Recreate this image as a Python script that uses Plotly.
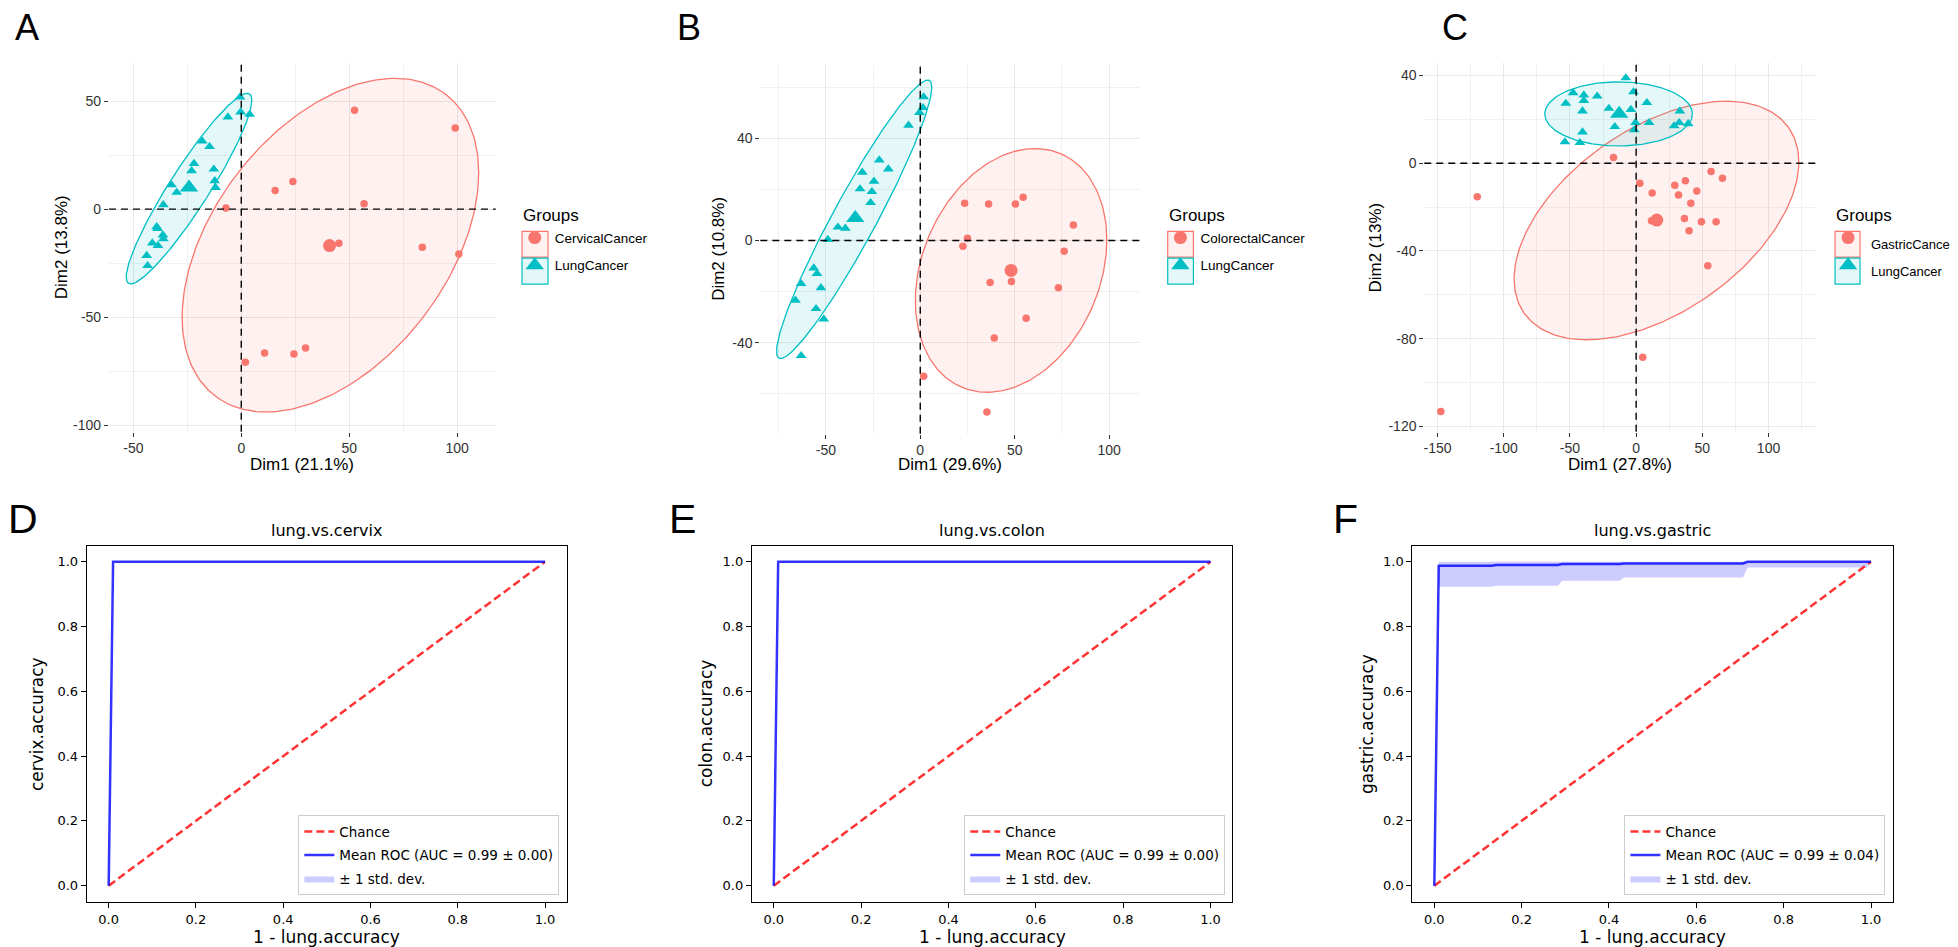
import numpy as np
import plotly.graph_objects as go

W, H = 1958, 947
RED, TEAL = '#F8766D', '#00BFC4'
RED_FILL, TEAL_FILL = 'rgba(248,118,109,0.10)', 'rgba(0,191,196,0.10)'
TOPFONT = 'Liberation Sans, Arial, Helvetica, sans-serif'
ROCFONT = 'DejaVu Sans, Verdana, sans-serif'

# ---------------- PCA data ----------------
# Panel A : cervical vs lung
A_lung_x = [-0.6, -0.3, 3.9, -6.2, -18.1, -14.7, -21.9, -23.0, -12.7, -12.3, -11.9, -32.3, -29.9,
            -36.1, -39.2, -38.8, -36.3, -36.1, -41.2, -38.6, -43.8, -43.4]
A_lung_y = [51.8, 44.9, 43.8, 42.6, 31.5, 28.9, 21.1, 17.7, 18.5, 13.1, 10.0, 11.2, 7.7,
            2.0, -8.2, -9.0, -12.0, -13.8, -15.7, -16.9, -21.5, -26.2]
A_other_x = [52.5, 99.1, 23.9, 15.7, 56.9, -7.1, 45.2, 83.9, 100.8, 29.8, 10.8, 24.4, 1.9]
A_other_y = [45.7, 37.5, 12.8, 8.6, 2.5, 0.5, -15.8, -17.7, -20.8, -64.3, -66.6, -67.1, -70.9]
A_centroids = {'lung': (-24.2, 10.0), 'other': (40.9, -16.9)}
# ellipse: centre x, centre y, half-extent x, half-extent y, correlation
A_ellipses = {'lung': (-24.2, 9.5, 29.1, 44.1, 0.928), 'other': (41.3, -16.7, 68.7, 77.2, 0.434)}

# Panel B : colorectal vs lung
B_lung_x = [1.8, 1.4, -0.4, -6.2, -21.7, -16.9, -30.7, -24.5, -31.9, -25.6, -26.3, -43.6, -39.7,
            -48.9, -56.4, -54.7, -63.1, -52.6, -66.1, -55.2, -51.1, -63.1]
B_lung_y = [56.2, 52.0, 50.1, 45.1, 31.5, 28.0, 26.7, 23.2, 20.2, 19.1, 14.8, 5.2, 4.8,
            0.4, -10.8, -13.0, -16.9, -18.5, -23.4, -26.7, -30.8, -45.1]
B_other_x = [23.5, 36.2, 50.4, 54.5, 81.1, 25.0, 22.6, 76.2, 37.0, 48.3, 73.2, 56.1, 39.2, 1.8, 35.3]
B_other_y = [14.6, 14.3, 14.3, 16.9, 6.1, 0.9, -2.2, -4.2, -16.4, -16.0, -18.5, -30.4, -38.2, -53.1, -67.1]
B_centroids = {'lung': (-34.4, 8.8), 'other': (48.1, -11.7)}
B_ellipses = {'lung': (-35.0, 8.3, 41.1, 54.5, 0.948), 'other': (48.1, -11.7, 50.7, 47.7, 0.25)}

# Panel C : gastric vs lung
C_lung_x = [-7.8, -2.0, -47.6, -39.5, -29.4, -39.5, -53.1, 8.1, -20.6, -4.0, -40.5, 33.0, -0.5,
            9.8, 32.5, 39.3, 28.7, -16.1, -1.5, -40.5, -53.8, -42.5]
C_lung_y = [38.9, 32.6, 32.1, 31.1, 30.6, 28.6, 27.3, 27.6, 25.0, 24.5, 23.8, 23.8, 18.5,
            18.5, 18.5, 18.0, 17.0, 16.7, 15.2, 14.2, 9.7, 9.4]
C_other_x = [-17.1, 56.6, 65.2, 2.8, 37.2, 29.2, 45.8, 12.1, 32.0, 41.3, -120.0, 11.6, 36.5,
             49.3, 60.4, 40.0, 54.1, 5.0, -147.5]
C_other_y = [2.6, -3.8, -6.8, -9.1, -8.0, -10.0, -12.6, -13.6, -14.5, -18.2, -15.3, -26.2, -25.2,
             -26.7, -26.7, -30.8, -46.7, -88.5, -113.2]
C_centroids = {'lung': (-12.8, 22.6), 'other': (15.6, -25.9)}
C_ellipses = {'lung': (-13.25, 22.5, 55.75, 14.6, 0.0), 'other': (15.35, -26.1, 107.5, 54.4, 0.49)}

A_xticks, A_yticks = [-50, 0, 50, 100], [-100, -50, 0, 50]
A_xminor, A_yminor = [-25, 25, 75], [-75, -25, 25]
B_xticks, B_yticks = [-50, 0, 50, 100], [-40, 0, 40]
B_xminor, B_yminor = [-75, -25, 25, 75], [-60, -20, 20, 60]
C_xticks, C_yticks = [-150, -100, -50, 0, 50, 100], [-120, -80, -40, 0, 40]
C_xminor, C_yminor = [-125, -75, -25, 25, 75, 125], [-100, -60, -20, 20]

# ---------------- ROC data ----------------
D_fpr = [0.0, 0.0101, 1.0]
D_tpr = [0.0, 1.0, 1.0]
D_lo = [0.0, 1.0, 1.0]
D_hi = [0.0, 1.0, 1.0]
E_fpr = [0.0, 0.0101, 1.0]
E_tpr = [0.0, 1.0, 1.0]
E_lo = [0.0, 1.0, 1.0]
E_hi = [0.0, 1.0, 1.0]
F_fpr = [0.0, 0.0101, 0.1313, 0.1414, 0.2828, 0.2929, 0.4242, 0.4343, 0.7071, 0.7172, 0.9899, 1.0]
F_tpr = [0.0, 0.9877, 0.9877, 0.9898, 0.9898, 0.9929, 0.9929, 0.995, 0.995, 1.0, 1.0, 1.0]
F_lo = [0.0, 0.923, 0.923, 0.926, 0.926, 0.9415, 0.9415, 0.9518, 0.9518, 0.9825, 0.9825, 1.0]
F_hi = [0.0, 1.0, 1.0, 1.0, 1.0, 1.0, 1.0, 1.0, 1.0, 1.0, 1.0, 1.0]
chance = [0.0, 1.0]
roc_ticks = [0.0, 0.2, 0.4, 0.6, 0.8, 1.0]


def px(x):
    return x / W


def py(y):
    return 1 - y / H


def ellipse(cx, cy, sx, sy, r, n=241):
    t = np.linspace(0, 2 * np.pi, n)
    return cx + sx * np.cos(t), cy + sy * (r * np.cos(t) + np.sqrt(1 - r * r) * np.sin(t))


fig = go.Figure()
layout = dict(width=W, height=H, margin=dict(l=0, r=0, t=0, b=0), autosize=False,
              paper_bgcolor='white', plot_bgcolor='white', showlegend=True)
shapes, annotations = [], []

# 'textlabels' True -> legend entry texts written as annotations (the last legend sits at the page edge)
top_panels = [
    dict(s='', leg='legend', other='CervicalCancer', lx=A_lung_x, ly=A_lung_y, ox=A_other_x, oy=A_other_y,
         cen=A_centroids, ell=A_ellipses, dom=(100, 487, 55, 425), xr=[-61.3, 117.9], yr=[-103, 67.7],
         xt=A_xticks, yt=A_yticks, xm=A_xminor, ym=A_yminor, letter='A', lpos=(18, 20),
         xtitle='Dim1 (21.1%)', ytitle='Dim2 (13.8%)', ytx=52, yty=240, legx=506, keyx=(513.3, 539.3),
         textlabels=False, lfs=13.5),
    dict(s='2', leg='legend2', other='ColorectalCancer', lx=B_lung_x, ly=B_lung_y, ox=B_other_x, oy=B_other_y,
         cen=B_centroids, ell=B_ellipses, dom=(751.7, 1132, 56.7, 427), xr=[-84.7, 116.6], yr=[-75.6, 68.9],
         xt=B_xticks, yt=B_yticks, xm=B_xminor, ym=B_yminor, letter='B', lpos=(680, 20),
         xtitle='Dim1 (29.6%)', ytitle='Dim2 (10.8%)', ytx=710, yty=242, legx=1152, keyx=(1159.3, 1185),
         textlabels=False, lfs=13.5),
    dict(s='3', leg='legend3', other='GastricCancer', lx=C_lung_x, ly=C_lung_y, ox=C_other_x, oy=C_other_y,
         cen=C_centroids, ell=C_ellipses, dom=(1416, 1808, 55, 425), xr=[-160, 135.9], yr=[-122.4, 45.8],
         xt=C_xticks, yt=C_yticks, xm=C_xminor, ym=C_yminor, letter='C', lpos=(1447, 20),
         xtitle='Dim1 (27.8%)', ytitle='Dim2 (13%)', ytx=1367, yty=240, legx=1820, keyx=(1827, 1852),
         textlabels=True, lfs=13),
]

for P in top_panels:
    s = P['s']
    xa, ya = 'x' + s, 'y' + s
    for key, col, fillc in (('other', RED, RED_FILL), ('lung', TEAL, TEAL_FILL)):
        ex, ey = ellipse(*P['ell'][key])
        fig.add_trace(go.Scatter(x=ex, y=ey, mode='lines', fill='toself', fillcolor=fillc,
                                 line=dict(color=col, width=1.3), hoverinfo='skip', showlegend=False,
                                 xaxis=xa, yaxis=ya))
    fig.add_trace(go.Scatter(x=P['ox'], y=P['oy'], mode='markers', showlegend=False,
                             marker=dict(symbol='circle', size=7.5, color=RED, line=dict(width=0)),
                             xaxis=xa, yaxis=ya))
    fig.add_trace(go.Scatter(x=P['lx'], y=P['ly'], mode='markers', showlegend=False,
                             marker=dict(symbol='triangle-up', size=9.5, color=TEAL, line=dict(width=0)),
                             xaxis=xa, yaxis=ya))
    names = (P['other'], 'LungCancer')
    shown = (' ', '  ') if P['textlabels'] else names
    cx, cy = P['cen']['other']
    fig.add_trace(go.Scatter(x=[cx], y=[cy], mode='markers', name=shown[0], legend=P['leg'],
                             legendgroup=P['leg'] + 'o', legendrank=1, hovertext=names[0],
                             marker=dict(symbol='circle', size=13, color=RED, line=dict(width=0)),
                             xaxis=xa, yaxis=ya))
    cx, cy = P['cen']['lung']
    fig.add_trace(go.Scatter(x=[cx], y=[cy], mode='markers', name=shown[1], legend=P['leg'],
                             legendgroup=P['leg'] + 'l', legendrank=2, hovertext=names[1],
                             marker=dict(symbol='triangle-up', size=16, color=TEAL, line=dict(width=0)),
                             xaxis=xa, yaxis=ya))
    l, r, t, b = P['dom']
    tickfont = dict(family=TOPFONT, size=14, color='#333333')
    for ax, dom, rng, tv, mv, anc in (('xaxis', [px(l), px(r)], P['xr'], P['xt'], P['xm'], 'y'),
                                      ('yaxis', [py(b), py(t)], P['yr'], P['yt'], P['ym'], 'x')):
        layout[ax + s] = dict(domain=dom, range=rng, anchor=anc + s,
                              tickmode='array', tickvals=tv, ticktext=[str(v) for v in tv],
                              ticks='outside', ticklen=4, tickwidth=1, tickcolor='#333333',
                              tickfont=tickfont, showline=False, zeroline=False,
                              showgrid=True, gridcolor='#e8e8e8', gridwidth=1,
                              minor=dict(tickmode='array', tickvals=mv, showgrid=True,
                                         gridcolor='#f1f1f1', gridwidth=1, ticks=''))
    shapes.append(dict(type='line', xref=xa, yref=ya + ' domain', x0=0, x1=0, y0=0, y1=1,
                       line=dict(color='black', width=1.4, dash='7px,5px'), layer='above'))
    shapes.append(dict(type='line', xref=xa + ' domain', yref=ya, x0=0, x1=1, y0=0, y1=0,
                       line=dict(color='black', width=1.4, dash='7px,5px'), layer='above'))
    layout[P['leg']] = dict(x=px(P['legx']), y=py(215), xanchor='left', yanchor='top',
                            bgcolor='rgba(0,0,0,0)', borderwidth=0, traceorder='grouped',
                            tracegroupgap=7, itemsizing='trace',
                            font=dict(family=TOPFONT, size=13.5, color='black'))
    kx0, kx1 = P['keyx']
    for (y0, y1), col, fillc, nm in (((224, 250), RED, RED_FILL, names[0]),
                                     ((251, 277), TEAL, TEAL_FILL, names[1])):
        shapes.append(dict(type='rect', xref='paper', yref='paper', x0=px(kx0), x1=px(kx1),
                           y0=py(y1), y1=py(y0), line=dict(color=col, width=1.2), fillcolor=fillc,
                           layer='below'))
        if P['textlabels']:
            annotations.append(dict(text=nm, x=px(kx1 + 8.5), y=py((y0 + y1) / 2 + 0.5), xref='paper',
                                    yref='paper', showarrow=False, xanchor='left', yanchor='middle',
                                    font=dict(family=TOPFONT, size=P['lfs'], color='black')))
    annotations.append(dict(text='Groups', x=px(kx0 - 1), y=py(208), xref='paper', yref='paper',
                            showarrow=False, xanchor='left', yanchor='middle',
                            font=dict(family=TOPFONT, size=17, color='black')))
    annotations.append(dict(text=P['letter'], x=px(P['lpos'][0]), y=py(P['lpos'][1]), xref='paper',
                            yref='paper', showarrow=False, xanchor='center', yanchor='middle',
                            font=dict(family=TOPFONT, size=36, color='black')))
    annotations.append(dict(text=P['xtitle'], x=px((l + r) / 2), y=py(458), xref='paper', yref='paper',
                            showarrow=False, xanchor='center', yanchor='middle',
                            font=dict(family=TOPFONT, size=17, color='black')))
    annotations.append(dict(text=P['ytitle'], x=px(P['ytx']), y=py(P['yty']), xref='paper', yref='paper',
                            showarrow=False, xanchor='center', yanchor='middle', textangle=-90,
                            font=dict(family=TOPFONT, size=17, color='black')))

roc_panels = [
    dict(s='4', leg='legend4', fpr=D_fpr, tpr=D_tpr, lo=D_lo, hi=D_hi, auc='0.99 ± 0.00',
         dom=(77.9, 558.1), letter='D', lx=14, title='lung.vs.cervix', ylab='cervix.accuracy', ylx=27.4,
         legr=550.6),
    dict(s='5', leg='legend5', fpr=E_fpr, tpr=E_tpr, lo=E_lo, hi=E_hi, auc='0.99 ± 0.00',
         dom=(743.3, 1224.0), letter='E', lx=674, title='lung.vs.colon', ylab='colon.accuracy', ylx=697,
         legr=1216.9),
    dict(s='6', leg='legend6', fpr=F_fpr, tpr=F_tpr, lo=F_lo, hi=F_hi, auc='0.99 ± 0.04',
         dom=(1404.2, 1884.8), letter='F', lx=1337, title='lung.vs.gastric', ylab='gastric.accuracy',
         ylx=1358, legr=1877.4),
]
ROC_TOP, ROC_BOT = 539.3, 896.7

for P in roc_panels:
    s = P['s']
    xa, ya = 'x' + s, 'y' + s
    fig.add_trace(go.Scatter(x=P['fpr'], y=P['lo'], mode='lines', line=dict(width=0, color='rgba(0,0,255,0)'),
                             showlegend=False, hoverinfo='skip', xaxis=xa, yaxis=ya))
    fig.add_trace(go.Scatter(x=P['fpr'], y=P['hi'], mode='lines', fill='tonexty',
                             fillcolor='rgba(0,0,255,0.2)', line=dict(width=0, color='rgba(0,0,255,0)'),
                             name='± 1 std. dev.', legend=P['leg'], legendgroup=P['leg'] + 'c',
                             legendrank=3, xaxis=xa, yaxis=ya))
    fig.add_trace(go.Scatter(x=chance, y=chance, mode='lines', name='Chance',
                             line=dict(color='rgba(255,0,0,0.8)', width=2.5, dash='8px,4px'),
                             legend=P['leg'], legendgroup=P['leg'] + 'a', legendrank=1, xaxis=xa, yaxis=ya))
    fig.add_trace(go.Scatter(x=P['fpr'], y=P['tpr'], mode='lines', name='Mean ROC (AUC = %s)' % P['auc'],
                             line=dict(color='rgba(0,0,255,0.8)', width=2.5),
                             legend=P['leg'], legendgroup=P['leg'] + 'b', legendrank=2, xaxis=xa, yaxis=ya))
    l, r = P['dom']
    common = dict(range=[-0.05, 1.05], tickmode='array', tickvals=roc_ticks,
                  ticktext=['%.1f' % v for v in roc_ticks], ticks='outside', ticklen=5, tickwidth=1,
                  tickcolor='black', tickfont=dict(family=ROCFONT, size=13, color='black'),
                  showline=True, mirror=True, linecolor='black', linewidth=1.2,
                  showgrid=False, zeroline=False)
    layout['xaxis' + s] = dict(domain=[px(l), px(r)], anchor='y' + s, **common)
    layout['yaxis' + s] = dict(domain=[py(ROC_BOT), py(ROC_TOP)], anchor='x' + s, **common)
    layout[P['leg']] = dict(x=px(P['legr']), y=py(890), xanchor='right', yanchor='bottom',
                            bgcolor='rgba(255,255,255,0.8)', bordercolor='#cccccc', borderwidth=1,
                            traceorder='grouped', tracegroupgap=3,
                            font=dict(family=ROCFONT, size=13.5, color='black'))
    annotations.append(dict(text=P['letter'], x=px(P['lx']), y=py(513), xref='paper', yref='paper',
                            showarrow=False, xanchor='center', yanchor='middle',
                            font=dict(family=TOPFONT, size=41, color='black')))
    annotations.append(dict(text=P['title'], x=px((l + r) / 2), y=py(524), xref='paper', yref='paper',
                            showarrow=False, xanchor='center', yanchor='middle',
                            font=dict(family=ROCFONT, size=16, color='black')))
    annotations.append(dict(text='1 - lung.accuracy', x=px((l + r) / 2), y=py(931.5), xref='paper',
                            yref='paper', showarrow=False, xanchor='center', yanchor='middle',
                            font=dict(family=ROCFONT, size=17, color='black')))
    annotations.append(dict(text=P['ylab'], x=px(P['ylx']), y=py((ROC_TOP + ROC_BOT) / 2), xref='paper',
                            yref='paper', showarrow=False, xanchor='center', yanchor='middle',
                            textangle=-90, font=dict(family=ROCFONT, size=17, color='black')))

layout['shapes'] = shapes
layout['annotations'] = annotations
fig.update_layout(**layout)
fig.write_html('out.html')
